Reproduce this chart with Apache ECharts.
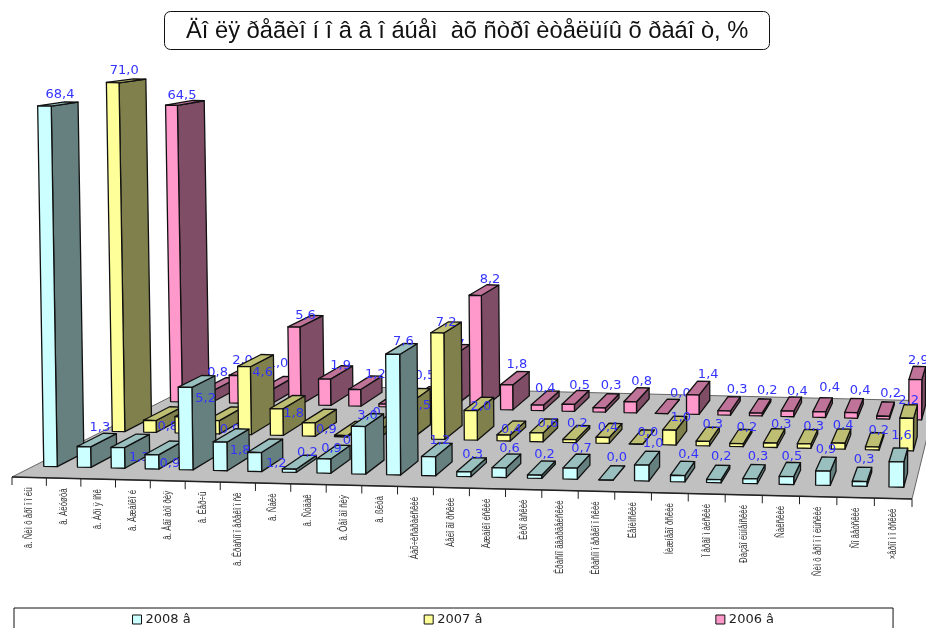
<!DOCTYPE html>
<html><head><meta charset="utf-8">
<style>html,body{margin:0;padding:0;background:#fff}#c{width:926px;height:628px}</style>
<script src="https://cdn.jsdelivr.net/npm/echarts@6/dist/echarts.min.js"></script>
</head><body><div id="c"></div>
<script>
const titleText = "Äî ëÿ ðåãèî í î â â î áúåì  àõ ñòðî èòåëüíû õ ðàáî ò, %";
const categories = ["â. Ñèì ô åðî ï î ëü","â. Àëóøòà","â. Àðì ÿ íñê","â. Äæàíêî é","â. Åâï àòî ðèÿ","â. Êåð÷ü","â. Êðàñíî ï åðåêî ï ñê","â. Ñàêè","â. Ñóäàê","â. Ôåî äî ñèÿ","â. ßëòà","Áàõ÷èñàðàéñêèé","Áåëî ãî ðñêèé","Äæàíêî éñêèé","Êèðî âñêèé","Êðàñíî ãâàðäåéñêèé","Êðàñíî ï åðåêî ï ñêèé","Ëåíèíñêèé","Íèæíåãî ðñêèé","Ï åðâî ì àéñêèé","Ðàçäî ëüíåíñêèé","Ñàêñêèé","Ñèì ô åðî ï î ëüñêèé","Ñî âåòñêèé","×åðíî ì î ðñêèé"];
const values2008 = [68.4,1.3,1.3,0.9,5.2,1.8,1.2,0.2,0.9,3.0,7.6,1.2,0.3,0.6,0.2,0.7,0.0,1.0,0.4,0.2,0.3,0.5,0.9,0.3,1.6];
const values2007 = [71.0,0.8,1.1,0.9,4.6,1.8,0.9,0.1,0.5,2.5,7.2,2.0,0.4,0.6,0.2,0.4,0.0,1.0,0.3,0.2,0.3,0.3,0.4,0.2,2.2];
const values2006 = [64.5,0.8,2.0,1.0,5.6,1.9,1.2,0.2,0.5,3.7,8.2,1.8,0.4,0.5,0.3,0.8,0.0,1.4,0.3,0.2,0.4,0.4,0.4,0.2,2.9];
const seriesNames = ["2008 â","2007 â","2006 â"];

// --- styling / projection settings ---
const VP = [1045,-45], BAR_DEPTH = 0.0264, FLOOR_BACK = 0.18;
const rowDepth = [0.021, 0.088, 0.145];
const faces = [
  {front:'#CCFFFF', side:'#668080', top:'#99BFBF'},
  {front:'#FFFF99', side:'#80804D', top:'#BFBF73'},
  {front:'#FF99CC', side:'#804D66', top:'#BF7399'}
];
// manual label shifts (dx, dy) as in the original, keyed by row then category index
const labelShift = [
  {0:[2,2],1:[3,-1],2:[9,28],3:[6,27],4:[9,28],5:[9,26],6:[11,29],7:[8,1],8:[-2,8],9:[0,7],10:[2,4],11:[3,2],12:[1,1],13:[3,-1],14:[3,-2],15:[5,-1],16:[5,-4],17:[6,-4],18:[6,-3],19:[3,-5],20:[4,-4],21:[2,-2],22:[0,-3],23:[2,-4],24:[3,-8]},
  {0:[-2,1],1:[5,24],2:[0,10],3:[5,27],4:[7,23],5:[6,22],6:[7,25],7:[2,23],9:[6,22],10:[0,6],11:[2,14],12:[0,13],13:[4,9],14:[1,2],15:[-1,8],16:[6,7],17:[6,5],18:[5,1],19:[6,2],20:[7,0],21:[6,1],22:[2,1],23:[4,2]},
  {0:[-3,4],1:[-1,-1],2:[-5,3],3:[1,-9],4:[0,5],5:[5,4],6:[10,3],8:[0,-7],9:[0,5],10:[6,0],11:[2,-3],12:[0,2],13:[4,-1],14:[5,-4],15:[5,-2],16:[13,-2],17:[10,-2],18:[8,-3],19:[7,-4],20:[6,-1],21:[7,-6],22:[6,-4],23:[5,-4],24:[1,-1]}
];
const GRID = {left:12, top:72, width:900, height:405};
// the value axis is compressed above 10 in the original picture
const axisValue = v => v <= 10 ? v : 21.4 + 0.34 * (v - 64.5);

function project(px, py, k) {
  const t = (px - GRID.left) / (GRID.width / 25);
  let X = 12 + 34.3 * t + 0.068 * t * t;
  const base = GRID.top + GRID.height;
  let Y = py + 0.0244 * (X - 12);
  X += (X - 700) * 2.5e-5 * (base - py);
  return [X + k * (VP[0] - X), Y + k * (VP[1] - Y)];
}
const stroke = {stroke:'#111', lineWidth:1.3, lineJoin:'round'};
const poly = (pts, fill, extra) => ({type:'polygon', shape:{points:pts}, style:Object.assign({fill}, stroke, extra||{})});

function barRenderer(row) {
  return function (params, api) {
    const i = api.value(0), v = api.value(1);
    const c0 = api.coord([i, 0]), c1 = api.coord([i, axisValue(v)]);
    const hw = api.size([1,0])[0] * 0.2;
    const k0 = rowDepth[row], k1 = k0 + BAR_DEPTH, f = faces[row];
    const L = c0[0]-hw, R = c0[0]+hw, yb = c0[1], yt = c1[1];
    const fbl = project(L,yb,k0), fbr = project(R,yb,k0), ftl = project(L,yt,k0), ftr = project(R,yt,k0);
    const bbr = project(R,yb,k1), btr = project(R,yt,k1), btl = project(L,yt,k1);
    const cx = (ftl[0]+ftr[0]+btl[0]+btr[0])/4, cy = (ftl[1]+ftr[1]+btl[1]+btr[1])/4;
    const sh = labelShift[row][i] || [0,0];
    return {type:'group', children:[
      poly([fbr,bbr,btr,ftr], f.side),
      poly([ftl,ftr,btr,btl], f.top),
      poly([fbl,fbr,ftr,ftl], f.front),
      {type:'text', style:{text:v.toFixed(1).replace('.',','), x:cx+sh[0], y:cy-11+sh[1], fill:'#3333FF',
        font:'13px "DejaVu Sans"', align:'center', verticalAlign:'middle'}}
    ]};
  };
}
function floorRenderer(params, api) {
  const a = api.coord([0,0]), w = api.size([1,0])[0], l = a[0]-w/2, r = l + w*25, y = a[1];
  const pts = [project(l,y,0),project(r,y,0),project(r,y,FLOOR_BACK),project(l,y,FLOOR_BACK)];
  return {type:'group', children:[
    {type:'polygon', shape:{points:pts}, style:{fill:'#C0C0C0', stroke:'#666', lineWidth:1}},
    {type:'line', shape:{x1:pts[0][0],y1:pts[0][1],x2:pts[1][0],y2:pts[1][1]}, style:{stroke:'#222', lineWidth:1.4}}
  ]};
}
function axisRenderer(params, api) {
  const i = api.value(0), c = api.coord([i,0]), w = api.size([1,0])[0];
  const p = project(c[0]-w/2, c[1], 0), q = project(c[0], c[1], 0);
  const kids = [{type:'line', shape:{x1:p[0],y1:p[1],x2:p[0],y2:p[1]+8}, style:{stroke:'#222', lineWidth:1}},
    {type:'text', x:q[0], y:q[1]+10, rotation:Math.PI/2, scaleX:0.72, scaleY:1,
     style:{text:categories[i], x:0, y:0, fill:'#333', font:'11px "Liberation Sans"', align:'right', verticalAlign:'middle'}}];
  if (i === 24) { const e = project(c[0]+w/2, c[1], 0);
    kids.push({type:'line', shape:{x1:e[0],y1:e[1],x2:e[0],y2:e[1]+8}, style:{stroke:'#222', lineWidth:1}}); }
  return {type:'group', children:kids};
}
const toData = arr => arr.map((v,i)=>[i,v]);
const chart = echarts.init(document.getElementById('c'), null, {renderer:'canvas'});
chart.setOption({
  animation:false,
  backgroundColor:'#fff',
  title:{text:titleText, left:164, top:12, padding:[8,21,7,22], borderColor:'#111', borderWidth:1, borderRadius:6,
    textStyle:{fontFamily:'"Liberation Sans"', fontSize:23.7, fontWeight:'normal', color:'#111', lineHeight:22}},
  grid:GRID,
  xAxis:{type:'category', data:categories, show:false},
  yAxis:{type:'value', min:0, max:25, show:false},
  legend:{left:14, top:608, orient:'horizontal', padding:[5,119,6,118], itemGap:233, itemWidth:9, itemHeight:9, icon:'rect',
    borderColor:'#111', borderWidth:1, selectedMode:false, data:seriesNames,
    itemStyle:{borderColor:'#111', borderWidth:1},
    textStyle:{fontFamily:'"DejaVu Sans"', fontSize:13, color:'#222', padding:[0,0,0,-1]}},
  series:[
    {type:'custom', silent:true, z:1, data:[[0,0]], renderItem:floorRenderer},
    {type:'custom', silent:true, z:1, data:categories.map((c,i)=>[i,0]), renderItem:axisRenderer},
    {type:'custom', name:seriesNames[2], silent:true, z:2, itemStyle:{color:faces[2].front}, data:toData(values2006), renderItem:barRenderer(2)},
    {type:'custom', name:seriesNames[1], silent:true, z:3, itemStyle:{color:faces[1].front}, data:toData(values2007), renderItem:barRenderer(1)},
    {type:'custom', name:seriesNames[0], silent:true, z:4, itemStyle:{color:faces[0].front}, data:toData(values2008), renderItem:barRenderer(0)}
  ]
});
</script></body></html>
